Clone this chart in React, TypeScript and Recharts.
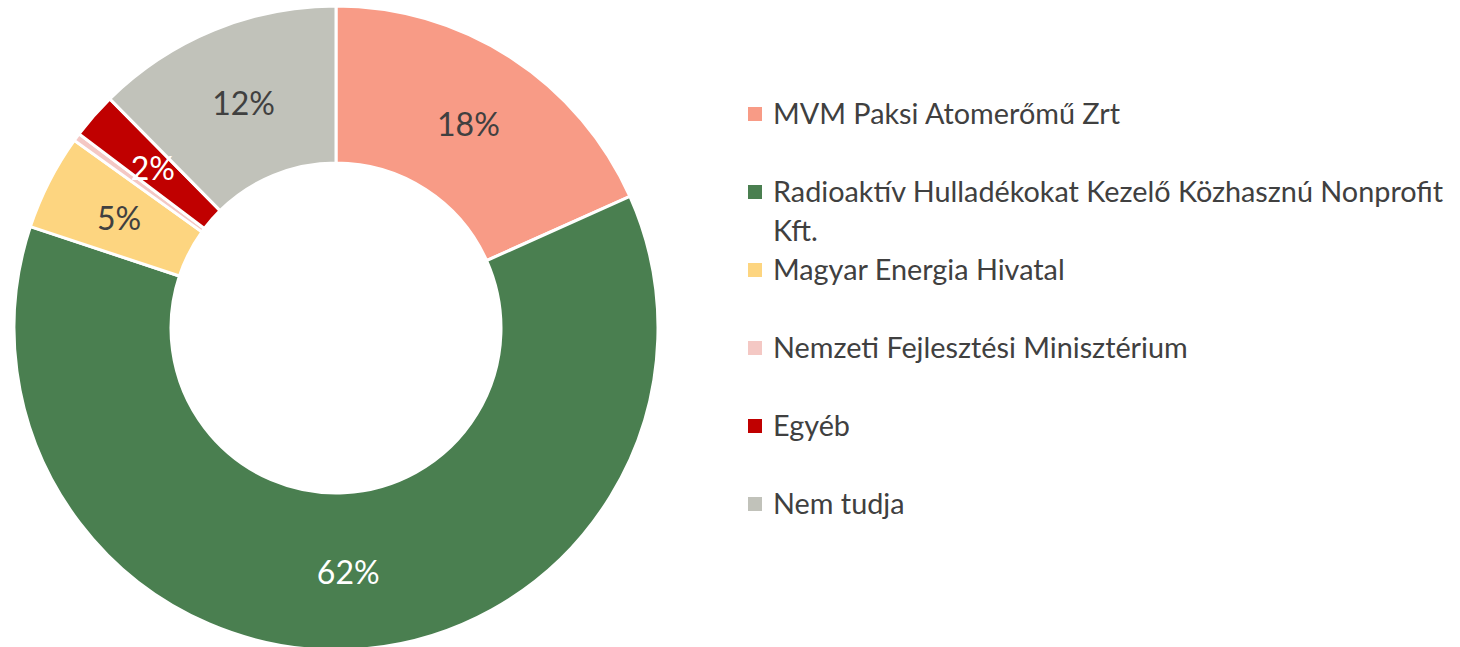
import { PieChart, Pie, Cell, Legend } from 'recharts';

const kategoriak = [
    'MVM Paksi Atomerőmű Zrt',
    'Radioaktív Hulladékokat Kezelő Közhasznú Nonprofit Kft.',
    'Magyar Energia Hivatal',
    'Nemzeti Fejlesztési Minisztérium',
    'Egyéb',
    'Nem tudja',
];
const ertekek = [18.3, 61.8, 4.8, 0.4, 2.3, 12.4];
const szinek = ['#F89B86', '#4A7F50', '#FDD580', '#F4C8C4', '#C00000', '#C1C2BA'];
const cimkeSzinek = ['#404040', '#ffffff', '#404040', '#404040', '#ffffff', '#404040'];

const data = kategoriak.map((nev, i) => ({ nev, ertek: ertekek[i] }));

const FONT = 'Lato, "Open Sans", sans-serif';
const RAD = Math.PI / 180;

function Cimke(props: any) {
    const { cx, cy, midAngle, innerRadius, outerRadius, percent, index } = props;
    const pct = Math.round(percent * 100);
    if (pct < 1) return null;
    const r = (innerRadius + outerRadius) / 2;
    const x = cx + r * Math.cos(-midAngle * RAD);
    const y = cy + r * Math.sin(-midAngle * RAD);
    return (
        <text x={x} y={y} fill={cimkeSzinek[index]} textAnchor="middle" dominantBaseline="central"
            style={{ fontFamily: FONT, fontSize: 32 }}>
            {pct}%
        </text>
    );
}

function Jelmagyarazat() {
    return (
        <div style={{ fontFamily: FONT, fontSize: 28.8, color: '#404040' }}>
            {kategoriak.map((k, i) => (
                <div key={k} style={{ display: 'flex', height: 78, alignItems: 'flex-start' }}>
                    <span style={{ width: 14, height: 14, background: szinek[i], marginTop: 13, marginRight: 11, flex: 'none' }} />
                    <span style={{ lineHeight: '39px', width: 685 }}>{k}</span>
                </div>
            ))}
        </div>
    );
}

export default function App() {
    return (
        <div style={{ position: 'fixed', left: 0, top: 0, background: '#fff' }}>
            <PieChart width={1460} height={647} margin={{ top: 0, right: 0, bottom: 0, left: 0 }}>
                <Pie
                    data={data}
                    dataKey="ertek"
                    nameKey="nev"
                    cx={336}
                    cy={328}
                    innerRadius={165}
                    outerRadius={322}
                    startAngle={90}
                    endAngle={-270}
                    stroke="#ffffff"
                    strokeWidth={3}
                    label={Cimke}
                    labelLine={false}
                    isAnimationActive={false}
                >
                    {data.map((d, i) => (
                        <Cell key={d.nev} fill={szinek[i]} />
                    ))}
                </Pie>
                <Legend
                    layout="vertical"
                    content={() => <Jelmagyarazat />}
                    wrapperStyle={{ left: 748, top: 94, width: 712 }}
                />
            </PieChart>
        </div>
    );
}
